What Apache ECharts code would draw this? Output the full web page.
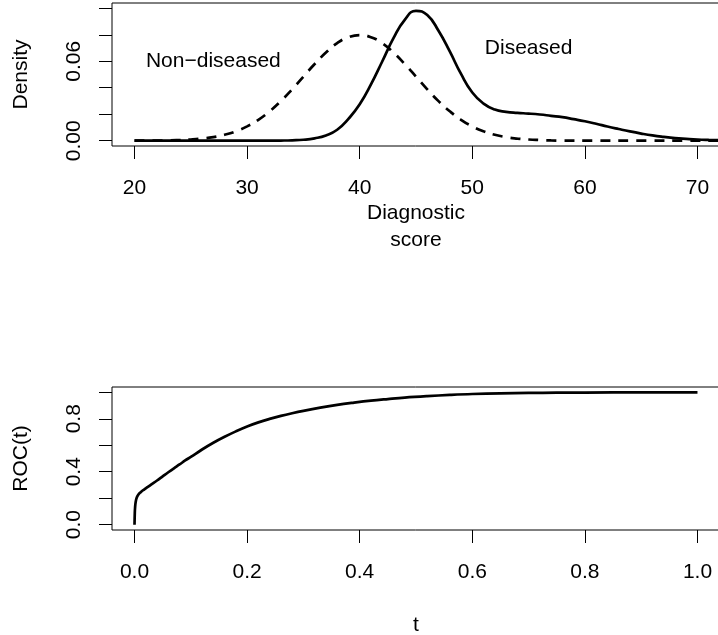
<!DOCTYPE html>
<html><head><meta charset="utf-8">
<script src="https://cdn.jsdelivr.net/npm/echarts@6/dist/echarts.min.js"></script>
<style>html,body{margin:0;padding:0;background:#fff}#c{width:718px;height:635px}</style>
</head><body><div id="c"></div>
<script>
// ---- Top panel: densities of the diagnostic score ----
const scoreX = [20,21,22,23,24,25,26,27,28,29,30,31,32,33,34,35,36,37,38,39,40,41,42,43,44,45,46,47,48,49,50,51,52,53,54,55,56,57,58,59,60,61,62,63,64,65,66,67,68,69,70,71,72];
const nonDiseased = [0.0000,0.0001,0.0001,0.0002,0.0005,0.0009,0.0016,0.0027,0.0045,0.0071,0.0108,0.0158,0.0222,0.0299,0.0388,0.0484,0.0579,0.0666,0.0737,0.0782,0.0798,0.0782,0.0737,0.0666,0.0579,0.0484,0.0388,0.0299,0.0222,0.0158,0.0108,0.0071,0.0045,0.0027,0.0016,0.0009,0.0005,0.0002,0.0001,0.0001,0.0000,0,0,0,0,0,0,0,0,0,0,0,0];
const diseased = [0,0,0,0,0,0,0,0,0,0,0,0,0,0.0001,0.0003,0.0007,0.0018,0.0040,0.0083,0.0165,0.0275,0.0425,0.0598,0.0774,0.0913,0.0981,0.0949,0.0830,0.0674,0.0504,0.0364,0.0280,0.0235,0.0218,0.0210,0.0205,0.0198,0.0188,0.0178,0.0163,0.0147,0.0128,0.0107,0.0088,0.0070,0.0054,0.0040,0.0029,0.0020,0.0014,0.0009,0.0006,0.0004];
const scoreTicks = [20,30,40,50,60,70];
const densityTicks = [0,0.02,0.04,0.06,0.08,0.10];
const densityLabels = [0,0.06];
const groupLabels = ["Non\u2212diseased","Diseased"];
const groupLabelX = [27,55];
const groupLabelY = [0.06,0.07];

// ---- Bottom panel: ROC curve ----
const rocT = [0,0.0005,0.001,0.002,0.004,0.007,0.01,0.015,0.02,0.03,0.04,0.05,0.06,0.07,0.08,0.09,0.10,0.12,0.14,0.16,0.18,0.20,0.22,0.24,0.26,0.28,0.30,0.33,0.36,0.39,0.42,0.45,0.48,0.52,0.56,0.60,0.65,0.70,0.75,0.80,0.90,1.0];
const rocY = [0,0.09,0.13,0.17,0.205,0.228,0.242,0.26,0.275,0.305,0.334,0.365,0.396,0.426,0.455,0.485,0.512,0.568,0.619,0.664,0.705,0.742,0.773,0.799,0.822,0.842,0.860,0.884,0.905,0.922,0.937,0.949,0.960,0.971,0.980,0.987,0.992,0.995,0.997,0.998,0.9995,1.0];
const tTicks = [0,0.2,0.4,0.6,0.8,1.0];
const rocTicks = [0,0.2,0.4,0.6,0.8,1.0];
const rocLabels = [0,0.4,0.8];

const FONT = '"Liberation Sans", Arial, Helvetica, sans-serif';
const chart = echarts.init(document.getElementById('c'), null, {renderer:'canvas'});

function xAx(gi, min, max, ticks, name, gap, dec) {
  return {
    type:'value', gridIndex:gi, min:min, max:max, position:'bottom',
    axisLine:{show:false, onZero:false}, splitLine:{show:false},
    axisTick:{show:true, length:13, customValues:ticks, lineStyle:{color:'#000', width:1}},
    axisLabel:{show:true, customValues:ticks, margin:32, fontSize:21, lineHeight:21, color:'#000', fontFamily:FONT,
      formatter:v=>Number(v).toFixed(dec)},
    name:name, nameLocation:'middle', nameGap:gap,
    nameTextStyle:{fontSize:21, lineHeight:27, color:'#000', fontFamily:FONT}
  };
}
function yAx(gi, min, max, ticks, labels, name, dec) {
  return {
    type:'value', gridIndex:gi, min:min, max:max, position:'left',
    axisLine:{show:false, onZero:false}, splitLine:{show:false},
    axisTick:{show:true, length:13, customValues:ticks, lineStyle:{color:'#000', width:1}},
    axisLabel:{show:true, customValues:labels, rotate:90, margin:27, fontSize:21, lineHeight:21, color:'#000', fontFamily:FONT,
      formatter:v=>Number(v).toFixed(dec)},
    name:name, nameLocation:'middle', nameGap:80, nameRotate:90,
    nameTextStyle:{fontSize:21, lineHeight:21, color:'#000', fontFamily:FONT}
  };
}

const option = {
  animation:false,
  backgroundColor:'#fff',
  grid:[
    {left:112, top:3, width:608, height:143, show:true, borderColor:'#000', borderWidth:1, backgroundColor:'transparent',
     containLabel:false, outerBoundsMode:'none'},
    {left:112, top:387, width:608, height:143, show:true, borderColor:'#000', borderWidth:1, backgroundColor:'transparent',
     containLabel:false, outerBoundsMode:'none'}
  ],
  xAxis:[
    xAx(0, 18, 72, scoreTicks, 'Diagnostic\nscore', 54, 0),
    xAx(1, -0.04, 1.04, tTicks, 't', 82, 1)
  ],
  yAxis:[
    yAx(0, -0.004, 0.104, densityTicks, densityLabels, 'Density', 2),
    yAx(1, -0.04, 1.04, rocTicks, rocLabels, 'ROC(t)', 1)
  ],
  series:[
    {type:'line', xAxisIndex:0, yAxisIndex:0, showSymbol:false, smooth:true, silent:true,
     data:scoreX.map((x,i)=>[x, nonDiseased[i]]),
     lineStyle:{color:'#000', width:2.7, type:[10,8]}},
    {type:'line', xAxisIndex:0, yAxisIndex:0, showSymbol:false, smooth:true, silent:true,
     data:scoreX.map((x,i)=>[x, diseased[i]]),
     lineStyle:{color:'#000', width:2.7}},
    {type:'scatter', xAxisIndex:0, yAxisIndex:0, symbolSize:1, silent:true,
     itemStyle:{color:'rgba(0,0,0,0)', opacity:1},
     data:groupLabels.map((s,i)=>({value:[groupLabelX[i], groupLabelY[i]], name:s})),
     label:{show:true, position:'inside', formatter:p=>p.name, fontSize:21, color:'#000', opacity:1,
       textBorderWidth:0, fontFamily:FONT}},
    {type:'line', xAxisIndex:1, yAxisIndex:1, showSymbol:false, smooth:0.4, silent:true,
     data:rocT.map((t,i)=>[t, rocY[i]]),
     lineStyle:{color:'#000', width:2.7}}
  ]
};
chart.setOption(option);
</script>
</body></html>
